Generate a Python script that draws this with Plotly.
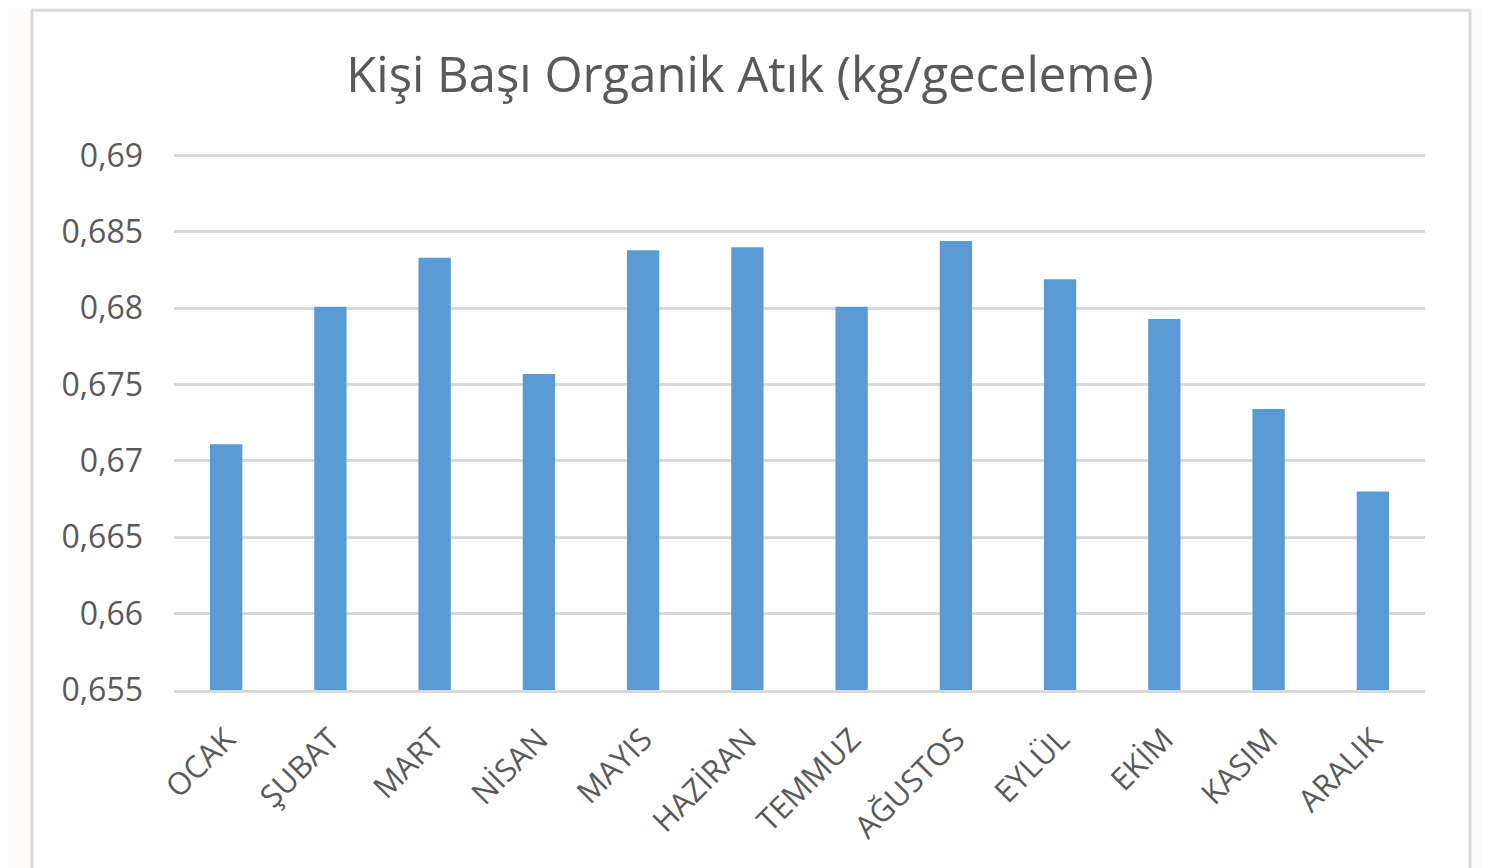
import plotly.graph_objects as go

months = ["OCAK", "ŞUBAT", "MART", "NİSAN", "MAYIS", "HAZİRAN",
          "TEMMUZ", "AĞUSTOS", "EYLÜL", "EKİM", "KASIM", "ARALIK"]
waste = [0.6711, 0.6801, 0.6833, 0.6757, 0.6838, 0.6840,
         0.6801, 0.6844, 0.6819, 0.6793, 0.6734, 0.6680]
tick_vals = [0.655, 0.66, 0.665, 0.67, 0.675, 0.68, 0.685, 0.69]
tick_text = ["0,655", "0,66", "0,665", "0,67", "0,675", "0,68", "0,685", "0,69"]
title = "Kişi Başı Organik Atık (kg/geceleme)"

OFF = 8  # page body margin
W, H = 1491 - OFF, 868 - OFF
L, R, T, B = 174 - OFF, 1425 - OFF, 153.5 - OFF, 690 - OFF
pw, ph = R - L, B - T

def px(x):
    return (x - OFF - L) / pw

def py(y):
    return (B - (y - OFF)) / ph

fig = go.Figure(go.Bar(x=months, y=waste, marker_color="#5B9BD5",
                       marker_line_width=0))

fig.update_layout(
    width=W, height=H,
    margin=dict(l=L, r=W - R, t=T, b=H - B, autoexpand=False),
    paper_bgcolor="#FDFCFA",
    plot_bgcolor="rgba(0,0,0,0)",
    font=dict(family="Open Sans, Noto Sans, sans-serif", color="#595959"),
    title=dict(text=title, x=px(750), xref="paper", xanchor="center",
               y=1 - (75 - OFF) / H, yanchor="middle",
               font=dict(size=49, color="#595959")),
    showlegend=False,
    shapes=[dict(type="rect", xref="paper", yref="paper",
                 x0=px(32), x1=px(1470), y0=py(900), y1=py(9.5),
                 fillcolor="white", line=dict(color="#D9D9D9", width=3),
                 layer="below")],
    bargap=0.69,
)
fig.update_yaxes(range=[0.655, 0.6901], tickvals=tick_vals, ticktext=tick_text,
                 showgrid=True, gridcolor="#D9D9D9", gridwidth=2.5,
                 zeroline=False, showline=False, ticks="",
                 tickfont=dict(size=32, color="#595959"), ticklabelstandoff=30)
fig.update_xaxes(tickangle=-45, showline=True, linecolor="#D9D9D9", linewidth=2.5,
                 ticks="", tickfont=dict(size=31, color="#595959"),
                 ticklabelstandoff=16)

fig.write_html("out.html")
